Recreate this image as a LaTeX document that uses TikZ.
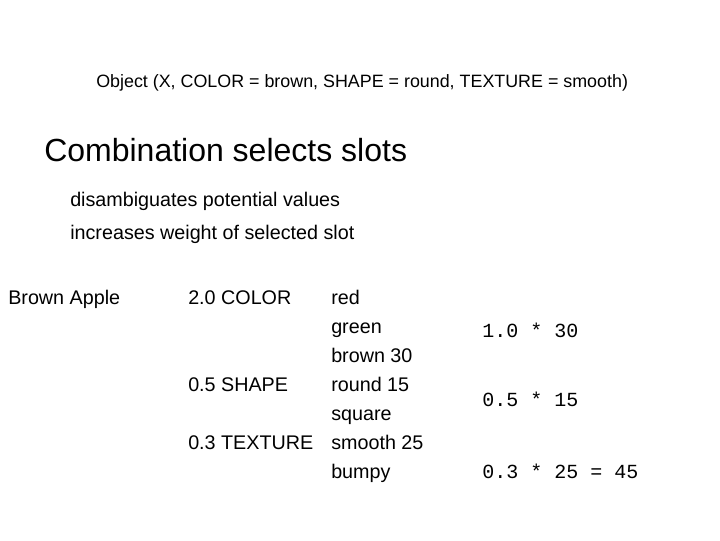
\documentclass[tikz,border=0pt]{standalone}
\usepackage{fontspec}
\setmainfont{Liberation Sans}
\setmonofont{Liberation Mono}
\begin{document}
\begin{tikzpicture}[x=0.75pt,y=-0.75pt,
  txt/.style={anchor=base west,inner sep=0pt,font=\fontsize{14.8}{17}\selectfont},
  ttl/.style={anchor=base west,inner sep=0pt,font=\fontsize{13.4}{16}\selectfont},
  big/.style={anchor=base west,inner sep=0pt,font=\fontsize{24}{28}\selectfont},
  mono/.style={anchor=base west,inner sep=0pt,font=\ttfamily\fontsize{15}{18}\selectfont}]
\useasboundingbox (0,0) rectangle (720,540);
\node[ttl] (obj) at (96,87) {Object (X, COLOR = brown, SHAPE = round, TEXTURE = smooth)};
\node[big] (comb) at (44,161) {Combination selects slots};
\node[txt] (dis) at (70,206) {disambiguates potential values};
\node[txt] (inc) at (70,239) {increases weight of selected slot};
\node[txt] (apple) at (8,304) {Brown Apple};
\node[txt] (color) at (188,304) {2.0 COLOR};
\node[txt] (shape) at (188,391) {0.5 SHAPE};
\node[txt] (texture) at (188,449) {0.3 TEXTURE};
\node[txt] (red) at (331,304) {red};
\node[txt] (green) at (331,333) {green};
\node[txt] (brown) at (331,362) {brown 30};
\node[txt] (round) at (331,391) {round 15};
\node[txt] (square) at (331,420) {square};
\node[txt] (smooth) at (331,449) {smooth 25};
\node[txt] (bumpy) at (331,478) {bumpy};
\node[mono] (m1) at (482,337) {1.0 * 30};
\node[mono] (m2) at (482,406) {0.5 * 15};
\node[mono] (m3) at (482,478) {0.3 * 25 = 45};
\end{tikzpicture}
\end{document}
